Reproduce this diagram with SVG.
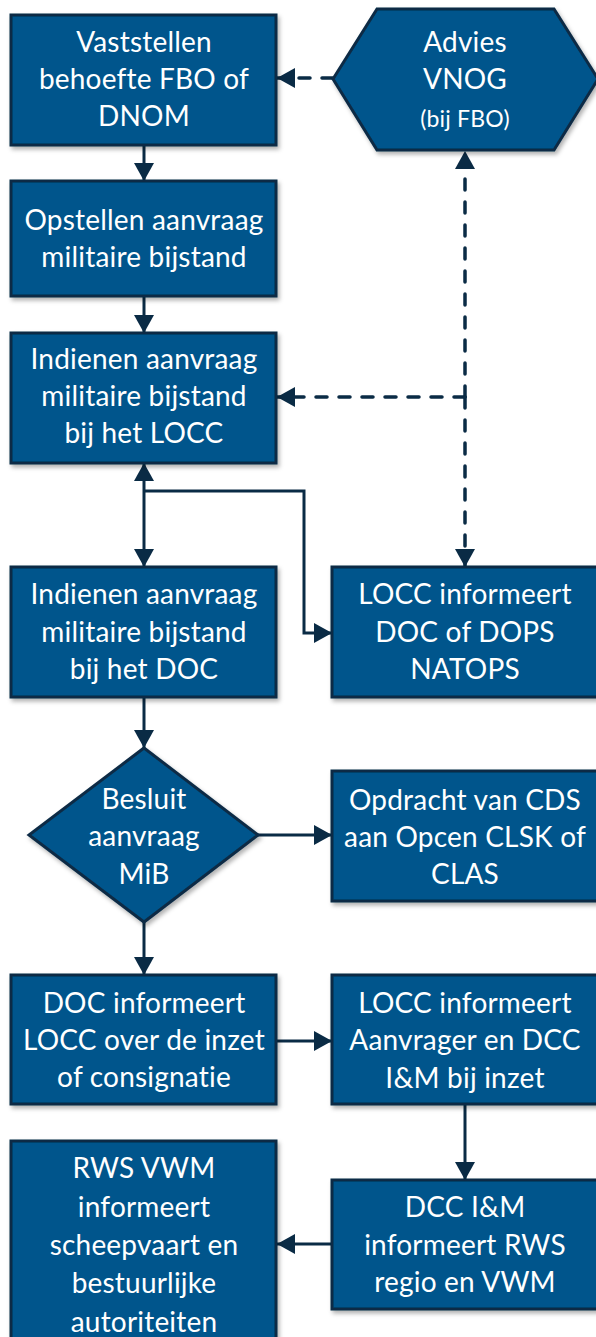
<svg xmlns="http://www.w3.org/2000/svg" width="596" height="1337" viewBox="0 0 596 1337">
<style>
.node{fill:#02558c;stroke:#0a2b45;stroke-width:3;filter:url(#sh)}
.t{font-family:Lato,"Liberation Sans",sans-serif;font-size:28px;fill:#ffffff;text-anchor:middle;letter-spacing:0.2px}
.t.s{font-size:23px}
.c{fill:none;stroke:#0a2b45;stroke-width:3}
.d{stroke-dasharray:11 12;stroke-linecap:round;stroke-width:3.5}
</style>
<defs>
<filter id="sh" x="-10%" y="-10%" width="130%" height="130%">
<feDropShadow dx="2" dy="3" stdDeviation="2" flood-color="#000" flood-opacity="0.3"/>
</filter>
<marker id="a" markerUnits="userSpaceOnUse" markerWidth="18" markerHeight="20" viewBox="0 0 18 20" refX="18" refY="10" orient="auto-start-reverse">
<path d="M0,0 L18,10 L0,20 z" fill="#0a2b45"/>
</marker>
</defs>
<g id="connectors">
<path class="c" d="M144,145 L144,181" marker-end="url(#a)"/>
<path class="c" d="M144,296 L144,333" marker-end="url(#a)"/>
<path class="c" d="M144,463 L144,567" marker-start="url(#a)" marker-end="url(#a)"/>
<path class="c" d="M144,491 L304,491 L304,633 L332,633" marker-end="url(#a)"/>
<path class="c" d="M144,697 L144,748" marker-end="url(#a)"/>
<path class="c" d="M258,835 L332,835" marker-end="url(#a)"/>
<path class="c" d="M144,922 L144,975" marker-end="url(#a)"/>
<path class="c" d="M276,1041 L332,1041" marker-end="url(#a)"/>
<path class="c" d="M465,1104 L465,1180" marker-end="url(#a)"/>
<path class="c" d="M332,1244 L277,1244" marker-end="url(#a)"/>
<path class="c d" d="M333,78 L277,78" marker-end="url(#a)"/>
<path class="c d" d="M465,397 L465,151" marker-end="url(#a)"/>
<path class="c d" d="M465,397 L465,567" marker-end="url(#a)"/>
<path class="c d" d="M465,397 L277,397" marker-end="url(#a)"/>
</g>
<g id="n1"><rect class="node" x="11" y="15" width="265" height="130"/>
<text class="t" x="144" y="52">Vaststellen</text><text class="t" x="144" y="89">behoefte FBO of</text><text class="t" x="144" y="126">DNOM</text></g>
<g id="n2"><path class="node" d="M333,79 L377,9 L554,9 L598,79 L554,150 L377,150 Z"/>
<text class="t" x="465" y="52">Advies</text><text class="t" x="465" y="89">VNOG</text><text class="t s" x="465" y="127">(bij FBO)</text></g>
<g id="n3"><rect class="node" x="11" y="181" width="265" height="115"/>
<text class="t" x="144" y="230">Opstellen aanvraag</text><text class="t" x="144" y="267">militaire bijstand</text></g>
<g id="n4"><rect class="node" x="11" y="333" width="265" height="130"/>
<text class="t" x="144" y="369">Indienen aanvraag</text><text class="t" x="144" y="406">militaire bijstand</text><text class="t" x="144" y="443">bij het LOCC</text></g>
<g id="n5"><rect class="node" x="11" y="567" width="265" height="130"/>
<text class="t" x="144" y="604">Indienen aanvraag</text><text class="t" x="144" y="642">militaire bijstand</text><text class="t" x="144" y="679">bij het DOC</text></g>
<g id="n6"><rect class="node" x="332" y="567" width="266" height="130"/>
<text class="t" x="465" y="604">LOCC informeert</text><text class="t" x="465" y="642">DOC of DOPS</text><text class="t" x="465" y="679">NATOPS</text></g>
<g id="n7"><path class="node" d="M144,748 L258,835 L144,922 L29,835 Z"/>
<text class="t" x="144" y="809">Besluit</text><text class="t" x="144" y="846">aanvraag</text><text class="t" x="144" y="884">MiB</text></g>
<g id="n8"><rect class="node" x="332" y="771" width="266" height="130"/>
<text class="t" x="465" y="810">Opdracht van CDS</text><text class="t" x="465" y="847">aan Opcen CLSK of</text><text class="t" x="465" y="884">CLAS</text></g>
<g id="n9"><rect class="node" x="11" y="975" width="265" height="129"/>
<text class="t" x="144" y="1013">DOC informeert</text><text class="t" x="144" y="1050">LOCC over de inzet</text><text class="t" x="144" y="1087">of consignatie</text></g>
<g id="n10"><rect class="node" x="332" y="975" width="266" height="129"/>
<text class="t" x="465" y="1013">LOCC informeert</text><text class="t" x="465" y="1050">Aanvrager en DCC</text><text class="t" x="465" y="1088">I&amp;M bij inzet</text></g>
<g id="n11"><rect class="node" x="332" y="1180" width="266" height="129"/>
<text class="t" x="465" y="1217">DCC I&amp;M</text><text class="t" x="465" y="1255">informeert RWS</text><text class="t" x="465" y="1292">regio en VWM</text></g>
<g id="n12"><rect class="node" x="11" y="1141" width="265" height="210"/>
<text class="t" x="144" y="1178">RWS VWM</text><text class="t" x="144" y="1217">informeert</text><text class="t" x="144" y="1255">scheepvaart en</text><text class="t" x="144" y="1293">bestuurlijke</text><text class="t" x="144" y="1332">autoriteiten</text></g>
</svg>
